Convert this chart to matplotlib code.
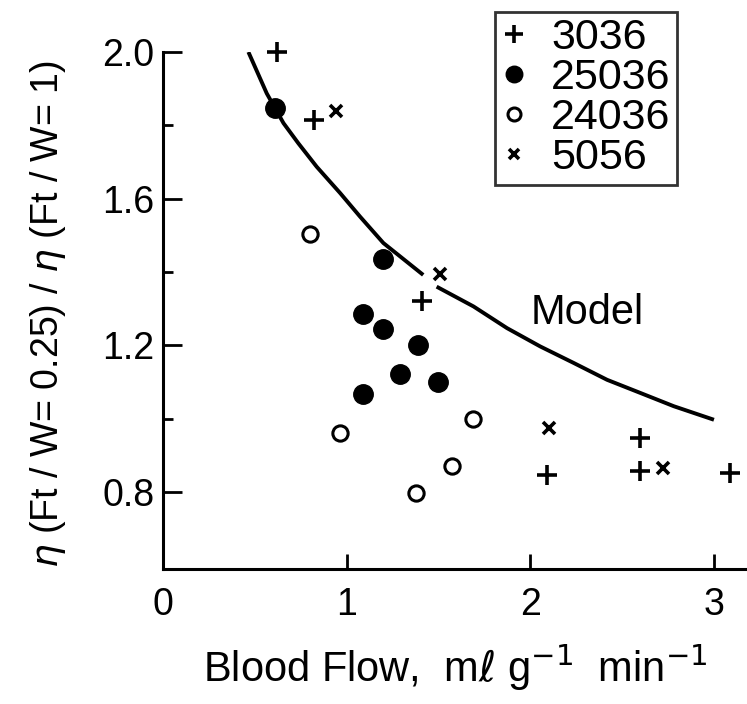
import numpy as np
import matplotlib
matplotlib.use("Agg")
import matplotlib.pyplot as plt

plt.rcParams["font.family"] = ["Liberation Sans", "DejaVu Sans"]

# data (blood flow, viscosity ratio)
x_3036 = [0.62, 0.82, 1.41, 2.09, 2.60, 2.60, 3.09]
y_3036 = [2.00, 1.815, 1.32, 0.847, 0.948, 0.856, 0.853]

x_25036 = [0.61, 1.20, 1.09, 1.20, 1.39, 1.29, 1.50, 1.09]
y_25036 = [1.847, 1.436, 1.286, 1.245, 1.20, 1.123, 1.10, 1.066]

x_24036 = [0.80, 0.965, 1.38, 1.575, 1.69]
y_24036 = [1.505, 0.96, 0.798, 0.87, 1.0]

x_5056 = [0.94, 1.51, 2.10, 2.72]
y_5056 = [1.84, 1.395, 0.975, 0.866]

# model curve (nan = break in the line under the x marker)
model_x = [0.465, 0.565, 0.656, 0.737, 0.837, 0.965, 1.073, 1.20, 1.417, np.nan,
           1.49, 1.691, 1.873, 2.054, 2.236, 2.418, 2.60, 2.781, 3.0]
model_y = [2.0, 1.887, 1.806, 1.751, 1.687, 1.615, 1.551, 1.479, 1.392, np.nan,
           1.36, 1.306, 1.247, 1.197, 1.152, 1.106, 1.07, 1.034, 0.997]

fig = plt.figure(figsize=(7.47, 7.04), dpi=100)
ax = fig.add_axes([163 / 747, 135 / 704, 584 / 747, 517 / 704])

ax.plot(model_x, model_y, color="black", lw=2.8, solid_capstyle="butt",
        solid_joinstyle="round")

ax.plot(x_3036, y_3036, ls="none", marker="+", ms=15, mew=2.6, color="black",
        label="3036", clip_on=False)
ax.plot(x_25036, y_25036, ls="none", marker="o", ms=14, color="black",
        label="25036", clip_on=False)
ax.plot(x_24036, y_24036, ls="none", marker="o", ms=11, mfc="white", mec="black",
        mew=2.2, label="24036", clip_on=False)
ax.plot(x_5056, y_5056, ls="none", marker="x", ms=9, mew=2.6, color="black",
        label="5056", clip_on=False)

ax.text(2.31, 1.289, "Model", fontsize=30, ha="center", va="center")

ax.set_xlim(0, 3.18)
ax.set_ylim(0.59, 2.0)
ax.set_xticks([0, 1, 2, 3])
ax.set_xticklabels(["0", "1", "2", "3"])
ax.set_yticks([0.8, 1.2, 1.6, 2.0])
ax.set_yticklabels(["0.8", "1.2", "1.6", "2.0"])
ax.set_yticks([1.0, 1.4, 1.8], minor=True)

for s in ["top", "right"]:
    ax.spines[s].set_visible(False)
for s in ["left", "bottom"]:
    ax.spines[s].set_linewidth(2.2)

ax.tick_params(axis="y", which="major", direction="in", length=14, width=2,
               labelsize=27, pad=6)
ax.tick_params(axis="y", which="minor", direction="in", length=7, width=2)
ax.tick_params(axis="x", which="major", direction="in", length=11, width=2,
               labelsize=27, pad=13)

fig.text(455 / 747, 1 - 668 / 704, r"Blood Flow,  m$\ell$ g$^{-1}$  min$^{-1}$",
         fontsize=30, ha="center", va="center")
fig.text(48 / 747, 1 - 314 / 704, r"$\eta$ (Ft / W= 0.25) / $\eta$ (Ft / W= 1)",
         fontsize=27, ha="center", va="center", rotation=90)

leg = fig.legend(loc="upper left", bbox_to_anchor=(495 / 747, 1 - 12 / 704),
                 fontsize=31, frameon=True, fancybox=False, borderaxespad=0,
                 handlelength=0.6, handletextpad=0.55, labelspacing=0.0,
                 borderpad=0.15, markerscale=0.85)
leg.get_frame().set_edgecolor("black")
leg.get_frame().set_linewidth(2)

fig.savefig("out.png", dpi=100)
